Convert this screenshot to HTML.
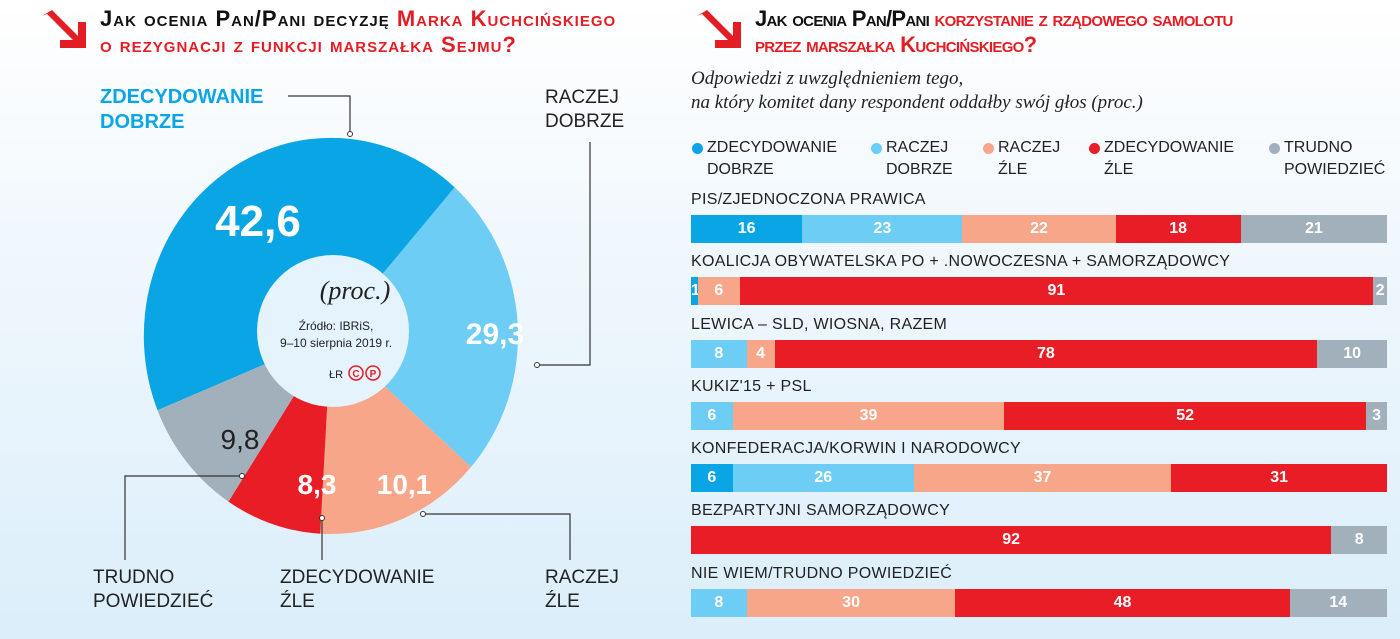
<!DOCTYPE html>
<html><head><meta charset="utf-8"><style>
body{margin:0;width:1400px;height:639px;overflow:hidden;background:linear-gradient(#ffffff 0%,#f3f9fd 30%,#dbeefa 100%);font-family:"Liberation Sans",sans-serif;position:relative}
.t{position:absolute;font-weight:bold;font-variant:small-caps;font-size:22px;line-height:26px;color:#111;letter-spacing:0px}
.r{color:#e41d25}
.lab{position:absolute;font-size:19px;line-height:24px;color:#222}
.bl{position:absolute;font-size:16px;color:#222;letter-spacing:0.3px}
.bar{position:absolute;left:691px;width:696px;height:28px;display:flex}
.bar div{height:28px;color:#fff;font-weight:bold;font-size:16px;line-height:28px;text-align:center;overflow:hidden}
.lg{position:absolute;top:137px;font-size:16px;line-height:22px;color:#222}
.lg i{position:absolute;left:-15px;top:6px;width:11px;height:11px;border-radius:50%}
</style></head><body>
<svg style="position:absolute;left:0;top:0" width="1400" height="639">
<g fill="#e41d25">
<polygon points="42,16 52,10 78,36 78,22 86,22 86,48 60,48 60,40 73,40 47,14"/>
<polygon points="697,16 707,10 733,36 733,22 741,22 741,48 715,48 715,40 728,40 702,14"/>
</g>
</svg>
<svg style="position:absolute;left:0;top:0" width="700" height="639" id="donut">
<g transform="translate(331,336) scale(0.945,1) translate(-330,-336)">
<path d="M330 336 L146.4 410.2 A198 198 0 0 1 460.9 187.4 Z" fill="#0aa5e4"/>
<path d="M330 336 L460.9 187.4 A198 198 0 0 1 478.2 467.0 Z" fill="#6dcdf5"/>
<path d="M330 336 L478.2 467.0 A198 198 0 0 1 318.6 533.7 Z" fill="#f7a68a"/>
<path d="M330 336 L318.6 533.7 A198 198 0 0 1 221.5 501.6 Z" fill="#e91d25"/>
<path d="M330 336 L221.5 501.6 A198 198 0 0 1 146.4 410.2 Z" fill="#a2b0bc"/>
</g>
<circle cx="333" cy="331" r="76" fill="#e4f3fc"/>
<g stroke="#333" stroke-width="1.2" fill="none">
<polyline points="288,96 350,96 350,134"/>
<polyline points="590,142 590,365 537,365"/>
<polyline points="423,514 570,514 570,560"/>
<polyline points="322,518 322,560"/>
<polyline points="242,476 125,476 125,560"/>
</g>
<g fill="#fff" stroke="#333" stroke-width="1"><circle cx="350" cy="134" r="2.5"/><circle cx="537" cy="365" r="2.5"/><circle cx="423" cy="514" r="2.5"/><circle cx="322" cy="518" r="2.5"/><circle cx="242" cy="476" r="2.5"/></g>
<g font-family="Liberation Sans" font-weight="bold" fill="#fff" text-anchor="middle">
<text x="258" y="236" font-size="44">42,6</text>
<text x="495" y="344" font-size="30">29,3</text>
<text x="404" y="494" font-size="28">10,1</text>
<text x="317" y="494" font-size="28">8,3</text>
</g>
<text x="240" y="449" font-size="28" fill="#222" text-anchor="middle" font-family="Liberation Sans">9,8</text>
<text x="355" y="299" font-size="26" font-style="italic" fill="#222" text-anchor="middle" font-family="Liberation Serif">(proc.)</text>
<text x="336" y="330" font-size="12" fill="#222" text-anchor="middle" font-family="Liberation Sans">Źródło: IBRiS,</text>
<text x="336" y="347" font-size="12" fill="#222" text-anchor="middle" font-family="Liberation Sans">9–10 sierpnia 2019 r.</text>
<text x="336" y="378" font-size="11" fill="#222" text-anchor="middle" font-family="Liberation Sans">ŁR</text>
<g fill="none" stroke="#e41d25" stroke-width="1.5"><circle cx="356" cy="373" r="7"/><circle cx="373" cy="373" r="7"/></g>
<text x="356" y="377" font-size="10" font-weight="bold" fill="#e41d25" text-anchor="middle" font-family="Liberation Sans">C</text>
<text x="373" y="377" font-size="10" font-weight="bold" fill="#e41d25" text-anchor="middle" font-family="Liberation Sans">P</text>
</svg>

<div class="t" style="left:100px;top:6px;letter-spacing:1px">Jak ocenia Pan/Pani decyzję <span class="r">Marka Kuchcińskiego</span><br><span class="r">o rezygnacji z funkcji marszałka Sejmu?</span></div>
<div class="t" style="left:755px;top:6px;letter-spacing:-0.7px">Jak ocenia Pan/Pani <span class="r">korzystanie z rządowego samolotu</span><br><span class="r">przez marszałka Kuchcińskiego?</span></div>

<div class="lab" style="left:100px;top:85px;color:#0aa5e4;font-weight:bold;font-size:20px;line-height:25px">ZDECYDOWANIE<br>DOBRZE</div>
<div class="lab" style="left:545px;top:86px">RACZEJ<br>DOBRZE</div>
<div class="lab" style="left:93px;top:566px">TRUDNO<br>POWIEDZIEĆ</div>
<div class="lab" style="left:280px;top:566px">ZDECYDOWANIE<br>ŹLE</div>
<div class="lab" style="left:545px;top:566px">RACZEJ<br>ŹLE</div>

<div style="position:absolute;left:691px;top:67px;font-family:'Liberation Serif',serif;font-style:italic;font-size:19px;line-height:24px;color:#222">Odpowiedzi z uwzględnieniem tego,<br>na który komitet dany respondent oddałby swój głos (proc.)</div>

<div class="lg" style="left:707px"><i style="background:#0aa5e4"></i>ZDECYDOWANIE<br>DOBRZE</div>
<div class="lg" style="left:886px"><i style="background:#6dcdf5"></i>RACZEJ<br>DOBRZE</div>
<div class="lg" style="left:998px"><i style="background:#f7a68a"></i>RACZEJ<br>ŹLE</div>
<div class="lg" style="left:1104px"><i style="background:#e91d25"></i>ZDECYDOWANIE<br>ŹLE</div>
<div class="lg" style="left:1284px"><i style="background:#a2b0bc"></i>TRUDNO<br>POWIEDZIEĆ</div>

<div class="bl" style="left:691px;top:191px">PIS/ZJEDNOCZONA PRAWICA</div>
<div class="bar" style="top:215px"><div style="width:16%;background:#0aa5e4">16</div><div style="width:23%;background:#6dcdf5">23</div><div style="width:22%;background:#f7a68a">22</div><div style="width:18%;background:#e91d25">18</div><div style="width:21%;background:#a2b0bc">21</div></div>

<div class="bl" style="left:691px;top:253px">KOALICJA OBYWATELSKA PO + .NOWOCZESNA + SAMORZĄDOWCY</div>
<div class="bar" style="top:277px"><div style="width:1%;background:#0aa5e4">1</div><div style="width:6%;background:#f7a68a">6</div><div style="width:91%;background:#e91d25">91</div><div style="width:2%;background:#a2b0bc">2</div></div>

<div class="bl" style="left:691px;top:316px">LEWICA – SLD, WIOSNA, RAZEM</div>
<div class="bar" style="top:340px"><div style="width:8%;background:#6dcdf5">8</div><div style="width:4%;background:#f7a68a">4</div><div style="width:78%;background:#e91d25">78</div><div style="width:10%;background:#a2b0bc">10</div></div>

<div class="bl" style="left:691px;top:378px">KUKIZ'15 + PSL</div>
<div class="bar" style="top:402px"><div style="width:6%;background:#6dcdf5">6</div><div style="width:39%;background:#f7a68a">39</div><div style="width:52%;background:#e91d25">52</div><div style="width:3%;background:#a2b0bc">3</div></div>

<div class="bl" style="left:691px;top:440px">KONFEDERACJA/KORWIN I NARODOWCY</div>
<div class="bar" style="top:464px"><div style="width:6%;background:#0aa5e4">6</div><div style="width:26%;background:#6dcdf5">26</div><div style="width:37%;background:#f7a68a">37</div><div style="width:31%;background:#e91d25">31</div></div>

<div class="bl" style="left:691px;top:502px">BEZPARTYJNI SAMORZĄDOWCY</div>
<div class="bar" style="top:526px"><div style="width:92%;background:#e91d25">92</div><div style="width:8%;background:#a2b0bc">8</div></div>

<div class="bl" style="left:691px;top:565px">NIE WIEM/TRUDNO POWIEDZIEĆ</div>
<div class="bar" style="top:589px"><div style="width:8%;background:#6dcdf5">8</div><div style="width:30%;background:#f7a68a">30</div><div style="width:48%;background:#e91d25">48</div><div style="width:14%;background:#a2b0bc">14</div></div>
</body></html>
